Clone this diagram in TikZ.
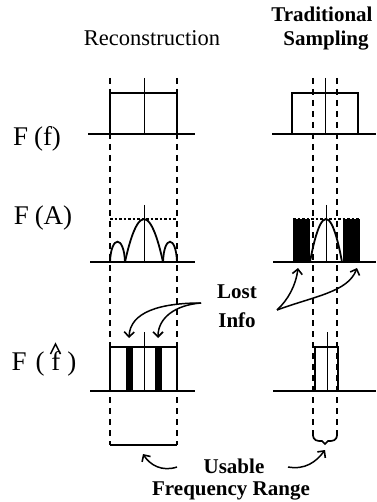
\documentclass[tikz,border=0pt]{standalone}
\usepackage{fontspec}
\setmainfont{Liberation Serif}
\usetikzlibrary{arrows.meta}
\begin{document}
\begin{tikzpicture}[x=1pt,y=-1pt,
  axis/.style={line width=1.7pt},
  box/.style={line width=1.8pt},
  mid/.style={line width=0.9pt},
  guide/.style={line width=1.7pt, dash pattern=on 6pt off 5pt},
  dots/.style={line width=1.5pt, dash pattern=on 2.5pt off 2pt},
  carrow/.style={line width=1.5pt, -{Straight Barb[length=5pt,width=10pt,line width=1.6pt]}},
  lbl/.style={font=\fontsize{27}{29}\selectfont, inner sep=0pt},
  ttl/.style={font=\fontsize{22.5}{24}\selectfont, inner sep=0pt},
  bttl/.style={font=\bfseries\fontsize{21}{23}\selectfont, inner sep=0pt}]
\useasboundingbox (0,0) rectangle (376,502);

% titles
\node[ttl] (rec) at (152,38) {Reconstruction};
\node[bttl] (trad) at (322,14) {Traditional};
\node[bttl] (samp) at (326,41) {Sampling};

% row labels
\node[lbl] (Ff) at (37,139) {F\kern6pt(f)};
\node[lbl] (FA) at (43,218) {F\kern6pt(A)};
\node[lbl] (Fh) at (44,364) {F\kern9pt(\kern7pt f\kern7pt)};
\draw[line width=1.5pt] (50.5,354) -- (55.5,344) -- (60.5,354);

% guide dashed lines
\draw[guide] (110,78) -- (110,445);
\draw[guide] (177,78) -- (177,445);
\draw[axis] (110,445) -- (177,445);
\draw[guide] (313,78) -- (313,436);
\draw[guide] (337,78) -- (337,436);
\draw[axis] (313,434) .. controls (313,441) and (317,441) .. (322,441) -- (325,444) -- (328,441) .. controls (333,441) and (337,441) .. (337,434);

% ---------- row 1: F(f)
\draw[axis] (88,134) -- (195,134);
\draw[box] (110,134) -- (110,93) -- (177,93) -- (177,134);
\draw[mid] (144,78) -- (144,134);
\draw[axis] (272,134) -- (376,134);
\draw[box] (292,134) -- (292,93) -- (358,93) -- (358,134);
\draw[mid] (325,78) -- (325,134);

% ---------- row 2: F(A)
\draw[axis] (90,262) -- (195,262);
\draw[dots] (110,219) -- (177,219);
\draw[mid] (144,205) -- (144,262);
\draw[box] (125,262) parabola bend (144,219) (163,262);
\draw[box] (110,262) .. controls (111,235) and (124,235) .. (125,262);
\draw[box] (163,262) .. controls (164,235) and (176,235) .. (177,262);

\fill[black] (293,219) rectangle (310,262);
\fill[black] (343,219) rectangle (360,262);
\draw[dots] (293,219) -- (360,219);
\draw[axis] (273,262) -- (376,262);
\draw[mid] (326,205) -- (326,262);
\draw[box] (310,262) parabola bend (326,219) (342,262);

% ---------- row 3: F(f hat)
\draw[axis] (90,391) -- (195,391);
\fill[black] (126,347) rectangle (133,391);
\fill[black] (155,347) rectangle (162,391);
\draw[box] (110,391) -- (110,347) -- (177,347) -- (177,391);
\draw[mid] (144,332) -- (144,391);
\draw[axis] (273,391) -- (376,391);
\draw[box] (315,391) -- (315,347) -- (338,347) -- (338,391);
\draw[mid] (327,332) -- (327,391);

% ---------- Lost Info
\node[bttl] (lost) at (237,292) {Lost};
\node[bttl] (info) at (237,320) {Info};
\coordinate (la) at (201,303);
\coordinate (lt1) at (129,338);
\coordinate (lt2) at (158,338);
\draw[carrow] (la) .. controls (160,303) and (130,312) .. (lt1);
\draw[carrow] (la) .. controls (175,305) and (158,318) .. (lt2);
\coordinate (ra) at (277,310);
\coordinate (rt1) at (298,268);
\coordinate (rt2) at (357,268);
\draw[carrow] (ra) .. controls (288,300) and (296,285) .. (rt1);
\draw[carrow] (ra) .. controls (315,296) and (348,292) .. (rt2);

% ---------- Usable Frequency Range
\node[bttl] (usable) at (234,466) {Usable};
\node[bttl] (freq) at (231,491) {Frequency Range};
\coordinate (ua) at (177,467);
\coordinate (ut) at (143,454);
\draw[carrow] (ua) .. controls (162,472) and (150,465) .. (ut);
\coordinate (ub) at (288,467);
\coordinate (uu) at (325,450);
\draw[carrow] (ub) .. controls (305,470) and (316,462) .. (uu);
\end{tikzpicture}
\end{document}
